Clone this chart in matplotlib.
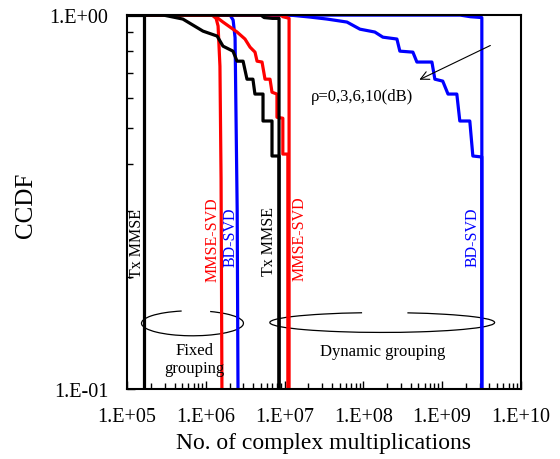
import matplotlib
matplotlib.use('Agg')
import matplotlib.pyplot as plt
from matplotlib.patches import Arc
from matplotlib.ticker import FuncFormatter, LogLocator

plt.rcParams['font.family'] = ['Liberation Serif', 'DejaVu Serif']

# %% Data (CCDF vs number of complex multiplications)
# fixed grouping
tx_fixed_x = [1e5, 1.64e5, 1.64e5]
tx_fixed_y = [1.0, 1.0, 0.1]
mmse_fixed_x = [1e5, 1.2e6, 1.35e6, 1.43e6, 1.51e6, 1.56e6, 1.6e6]
mmse_fixed_y = [1.0, 1.0, 0.98, 0.935, 0.73, 0.365, 0.1]
bd_fixed_x = [1e5, 2.03e6, 2.22e6, 2.35e6, 2.4e6, 2.5e6, 2.56e6]
bd_fixed_y = [1.0, 1.0, 0.97, 0.87, 0.6, 0.3, 0.1]

# dynamic grouping, low rho
tx_dyn_x = [1e5, 2.9e5, 5.1e5, 9.2e5, 1.39e6, 1.65e6, 2.21e6, 2.49e6, 2.97e6,
            3.33e6, 3.96e6, 4.2e6, 5.32e6, 5.32e6, 6.92e6, 6.92e6, 8.5e6, 8.5e6]
tx_dyn_y = [1.0, 1.0, 0.976, 0.906, 0.879, 0.826, 0.801, 0.753, 0.753,
            0.674, 0.674, 0.615, 0.615, 0.521, 0.521, 0.42, 0.42, 0.1]
mmse_dyn_x = [1e5, 1.25e6, 1.31e6, 1.65e6, 2.49e6, 3.14e6, 3.64e6, 4.21e6, 4.47e6,
              5.17e6, 5.64e6, 6.53e6, 6.92e6, 8.0e6, 8.0e6, 9.5e6, 9.5e6, 1.1e7, 1.1e7]
mmse_dyn_y = [1.0, 1.0, 0.994, 0.958, 0.901, 0.863, 0.821, 0.796, 0.753,
              0.749, 0.674, 0.674, 0.622, 0.615, 0.533, 0.53, 0.425, 0.425, 0.1]
bd_dyn_x = [1e5, 1.17e7, 2.1e7, 3.45e7, 6.2e7, 9.06e7, 1.4e8, 1.77e8, 2.67e8, 2.91e8,
            4.26e8, 4.79e8, 7.43e8, 8.1e8, 1.02e9, 1.19e9, 1.54e9, 1.68e9, 2.25e9,
            2.46e9, 3.02e9, 3.2e9, 3.2e9]
bd_dyn_y = [1.0, 1.0, 0.988, 0.976, 0.958, 0.917, 0.901, 0.873, 0.863, 0.801,
            0.796, 0.749, 0.749, 0.674, 0.666, 0.615, 0.615, 0.521, 0.521,
            0.42, 0.418, 0.418, 0.1]

# dynamic grouping, high rho (hug the top)
tx_hi_x = [1e5, 5.0e6, 5.5e6, 7.0e6, 8.5e6, 8.5e6]
tx_hi_y = [1.0, 1.0, 0.985, 0.98, 0.98, 0.1]
mmse_hi_x = [1e5, 9.0e6, 9.5e6, 1.05e7, 1.14e7, 1.14e7]
mmse_hi_y = [1.0, 1.0, 0.99, 0.985, 0.98, 0.1]
bd_hi_x = [1e5, 1.7e9, 2.3e9, 3.2e9, 3.2e9]
bd_hi_y = [1.0, 1.0, 0.99, 0.985, 0.1]

BLACK, RED, BLUE = 'black', '#ff0000', '#0000ff'
LW = 2.3

# %% Plot
fig = plt.figure(figsize=(5.6, 4.6), dpi=100)
ax = fig.add_axes([0.227, 0.152, 0.703, 0.813])

for xs, ys in [(bd_fixed_x, bd_fixed_y), (bd_dyn_x, bd_dyn_y), (bd_hi_x, bd_hi_y)]:
    ax.plot(xs, ys, color=BLUE, lw=LW)
for xs, ys in [(mmse_fixed_x, mmse_fixed_y), (mmse_dyn_x, mmse_dyn_y), (mmse_hi_x, mmse_hi_y)]:
    ax.plot(xs, ys, color=RED, lw=LW)
for xs, ys in [(tx_fixed_x, tx_fixed_y), (tx_dyn_x, tx_dyn_y), (tx_hi_x, tx_hi_y)]:
    ax.plot(xs, ys, color=BLACK, lw=LW)

ax.set_xscale('log')
ax.set_yscale('log')
ax.set_xlim(1e5, 1e10)
ax.set_ylim(0.1, 1.0)

fmt = FuncFormatter(lambda v, pos: f"{v:#.0E}")
blank = FuncFormatter(lambda v, pos: '')
ax.xaxis.set_major_locator(LogLocator(base=10, numticks=10))
ax.xaxis.set_major_formatter(fmt)
ax.yaxis.set_major_locator(LogLocator(base=10, numticks=10))
ax.yaxis.set_major_formatter(fmt)
ax.xaxis.set_minor_locator(LogLocator(base=10, subs=range(2, 10), numticks=20))
ax.yaxis.set_minor_locator(LogLocator(base=10, subs=range(2, 10), numticks=20))
ax.xaxis.set_minor_formatter(blank)
ax.yaxis.set_minor_formatter(blank)
ax.tick_params(which='both', direction='in', top=False, right=False, width=1.0,
               labelsize=14.5)
ax.tick_params(axis='x', which='both', pad=13)
ax.tick_params(axis='y', which='both', pad=13.5)
ax.tick_params(which='major', length=6)
ax.tick_params(which='minor', length=4)
for s in ax.spines.values():
    s.set_linewidth(1.5)

ax.set_xlabel('No. of complex multiplications', fontsize=17)
ax.xaxis.set_label_coords(0.5, -0.116)
ax.set_ylabel('CCDF', fontsize=18)
ax.yaxis.set_label_coords(-0.228, 0.495)

# curve labels
labels = [('Tx MMSE', 0.025, 0.393, BLACK), ('MMSE-SVD', 0.218, 0.401, RED),
          ('BD-SVD', 0.264, 0.409, BLUE), ('Tx MMSE', 0.360, 0.396, BLACK),
          ('MMSE-SVD', 0.439, 0.406, RED), ('BD-SVD', 0.878, 0.409, BLUE)]
for txt, xa, ya, c in labels:
    ax.text(xa, ya, txt, color=c, rotation=90, fontsize=11.5, ha='center', va='center',
            transform=ax.transAxes)

ax.text(0.170, 0.080, 'Fixed\ngrouping', fontsize=12, ha='center', va='center',
        linespacing=1.2, transform=ax.transAxes)
ax.text(0.650, 0.102, 'Dynamic grouping', fontsize=12, ha='center', va='center',
        transform=ax.transAxes)

ax.add_patch(Arc((0.166, 0.176), 0.259, 0.067, theta1=130, theta2=395,
                 transform=ax.transAxes, color='black', lw=0.9))
ax.add_patch(Arc((0.648, 0.178), 0.571, 0.053, theta1=153, theta2=382,
                 transform=ax.transAxes, color='black', lw=0.9))

ax.annotate('', xy=(0.736, 0.824), xytext=(0.929, 0.922), xycoords='axes fraction',
            arrowprops=dict(arrowstyle='->', color='black', lw=0.8, mutation_scale=15))
ax.text(0.596, 0.783, 'ρ=0,3,6,10(dB)', fontsize=12, ha='center', va='center',
        transform=ax.transAxes)

fig.savefig('out.png', dpi=100)
